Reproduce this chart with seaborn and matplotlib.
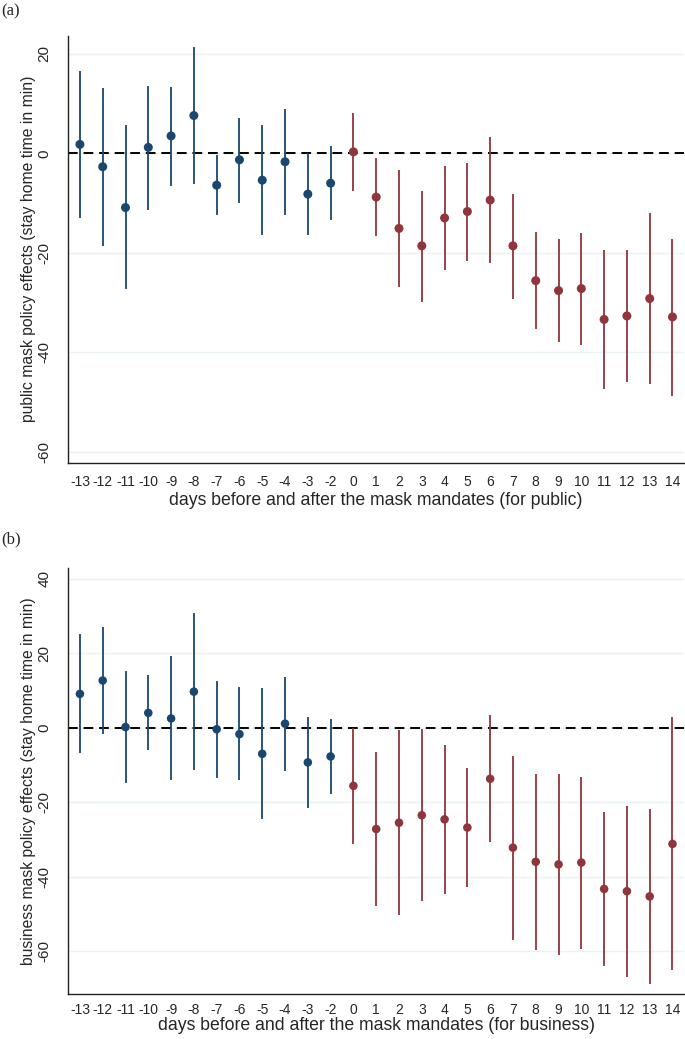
import numpy as np
import pandas as pd
import matplotlib
matplotlib.use("Agg")
import matplotlib.pyplot as plt
import seaborn as sns

# ── Data ──────────────────────────────────────────────────────────────────────
days = ["-13", "-12", "-11", "-10", "-9", "-8", "-7", "-6", "-5", "-4", "-3", "-2",
        "0", "1", "2", "3", "4", "5", "6", "7", "8", "9", "10", "11", "12", "13", "14"]

pub_est = [1.8, -2.7, -10.9, 1.2, 3.5, 7.6, -6.4, -1.3, -5.4, -1.7, -8.2, -6.0,
           0.3, -8.8, -15.1, -18.6, -13.0, -11.7, -9.4, -18.6, -25.6, -27.6, -27.2,
           -33.4, -32.7, -29.2, -32.9]
pub_hi = [16.6, 13.1, 5.7, 13.5, 13.4, 21.4, -0.3, 7.2, 5.7, 9.0, 0.1, 1.5,
          8.1, -1.0, -3.3, -7.6, -2.5, -1.9, 3.3, -8.1, -15.9, -17.3, -16.0,
          -19.5, -19.4, -12.0, -17.2]
pub_lo = [-13.1, -18.6, -27.3, -11.3, -6.5, -6.1, -12.5, -9.9, -16.4, -12.4, -16.5, -13.5,
          -7.5, -16.6, -26.8, -29.8, -23.4, -21.6, -22.0, -29.2, -35.3, -37.9, -38.5,
          -47.3, -46.0, -46.4, -48.7]

bus_est = [9.1, 12.7, 0.2, 4.0, 2.5, 9.7, -0.4, -1.7, -7.0, 1.1, -9.3, -7.7,
           -15.6, -27.2, -25.5, -23.5, -24.6, -26.8, -13.7, -32.2, -36.0, -36.7, -36.2,
           -43.3, -43.9, -45.3, -31.2]
bus_hi = [25.2, 27.2, 15.2, 14.2, 19.2, 30.8, 12.7, 10.9, 10.7, 13.6, 3.0, 2.3,
          0.0, -6.4, -0.6, -0.2, -4.7, -10.7, 3.3, -7.5, -12.4, -12.4, -13.2,
          -22.7, -20.9, -21.9, 2.8]
bus_lo = [-6.7, -1.8, -14.8, -6.1, -14.1, -11.3, -13.6, -14.1, -24.6, -11.5, -21.6, -17.7,
          -31.3, -48.0, -50.4, -46.4, -44.6, -42.8, -30.8, -56.9, -59.6, -61.0, -59.3,
          -63.9, -66.9, -68.7, -65.0]

BLUE = "#1a476f"
RED = "#90353b"
GRID = "#eaf2f3"

sns.set_style("white")
plt.rcParams["font.family"] = ["Liberation Sans", "DejaVu Sans"]


def panel(ax, est, lo, hi, yticks, ylim, ylabel, xlabel, xpad, xlabpad, msize):
    df = pd.DataFrame({"day": days, "est": est, "lo": lo, "hi": hi})
    df["pos"] = np.arange(len(df))
    df["phase"] = np.where(df["pos"] < 12, "pre", "post")
    colors = {"pre": BLUE, "post": RED}

    for t in yticks:
        ax.axhline(t, color=GRID, lw=1.0, zorder=0)
    ax.axhline(0, color="black", lw=1.4, ls=(0, (5, 3)), zorder=1)

    ax.vlines(df["pos"], df["lo"], df["hi"],
              colors=[colors[p] for p in df["phase"]], lw=1.3, zorder=2)
    sns.scatterplot(data=df, x="pos", y="est", hue="phase", palette=colors,
                    s=msize, linewidth=0, legend=False, ax=ax, zorder=3)

    ax.set_xlim(-0.51, 26.51)
    ax.set_ylim(*ylim)
    ax.set_xticks(df["pos"])
    ax.set_xticklabels(days)
    ax.set_yticks(yticks)
    ax.set_yticklabels([str(t) for t in yticks], rotation=90, va="center")
    ax.set_xlabel(xlabel, fontsize=12.7, labelpad=xlabpad)
    ax.set_ylabel(ylabel, fontsize=11.3, labelpad=1)
    ax.tick_params(axis="x", length=5, width=1, color="#333333", labelsize=10, pad=xpad)
    ax.tick_params(axis="y", length=7, width=1, color="#333333", labelsize=11, pad=5)
    for s in ["top", "right"]:
        ax.spines[s].set_visible(False)
    for s in ["left", "bottom"]:
        ax.spines[s].set_color("#222222")
        ax.spines[s].set_linewidth(1.0)


fig = plt.figure(figsize=(6.85, 10.39), dpi=100)
ax1 = fig.add_axes([0.0997, 0.5547, 0.899, 0.4107])
ax2 = fig.add_axes([0.0997, 0.0430, 0.899, 0.4106])

panel(ax1, pub_est, pub_lo, pub_hi, [20, 0, -20, -40, -60], (-62.2, 23.6),
      "public mask policy effects (stay home time in min)",
      "days before and after the mask mandates (for public)", 4, 2, 42)
panel(ax2, bus_est, bus_lo, bus_hi, [40, 20, 0, -20, -40, -60], (-71.6, 43.0),
      "business mask policy effects (stay home time in min)",
      "days before and after the mask mandates (for business)", 1.5, -0.5, 38)

fig.text(0.002, 0.997, "(a)", family="Liberation Serif", fontsize=12, ha="left", va="top")
fig.text(0.002, 0.489, "(b)", family="Liberation Serif", fontsize=12, ha="left", va="top")

fig.savefig("out.png", dpi=100)
